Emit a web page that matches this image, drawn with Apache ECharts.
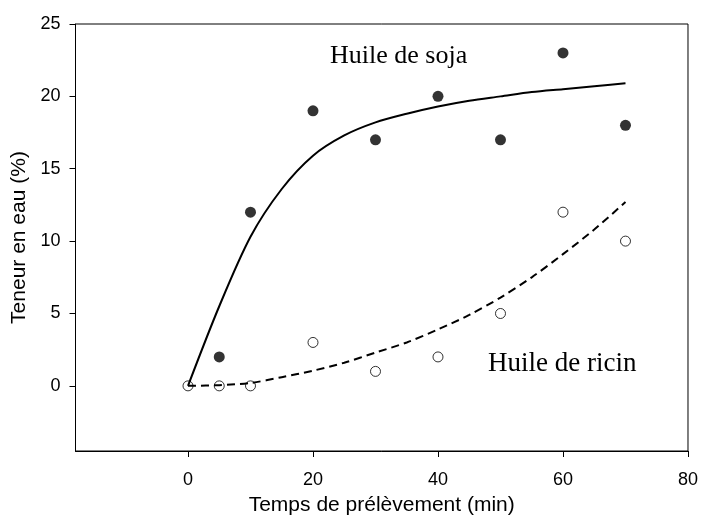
<!DOCTYPE html>
<html>
<head>
<meta charset="utf-8">
<script src="https://cdn.jsdelivr.net/npm/echarts@6/dist/echarts.min.js"></script>
<style>html,body{margin:0;padding:0;background:#fff}#c{width:701px;height:521px}</style>
</head>
<body>
<div id="c"></div>
<script>
// Observed points
const times = [0, 5, 10, 20, 30, 40, 50, 60, 70];
const sojaValues = [null, 2, 12, 19, 17, 20, 17, 23, 18];
const ricinValues = [0, 0, 0, 3, 1, 2, 5, 12, 10];
// Fitted curves
const fitX = [0, 5, 10, 15, 20, 25, 30, 35, 40, 45, 50, 55, 60, 65, 70];
const sojaFitY = [0, 5.5, 10.3, 13.6, 15.9, 17.3, 18.2, 18.8, 19.3, 19.7, 20.0, 20.3, 20.5, 20.7, 20.9];
const ricinFitY = [0, 0.05, 0.2, 0.6, 1.05, 1.6, 2.3, 3.0, 3.9, 4.9, 6.1, 7.5, 9.1, 10.8, 12.7];
const xTicks = [0, 20, 40, 60, 80];
const yTicks = [0, 5, 10, 15, 20, 25];
const labelSoja = 'Huile de soja';
const labelRicin = 'Huile de ricin';

const pair = (xs, ys) => xs.map((x, i) => [x, ys[i]]).filter(p => p[1] !== null);

const chart = echarts.init(document.getElementById('c'));
const axisFont = 'Liberation Sans, Arial, sans-serif';
const serif = '"Liberation Serif", "Times New Roman", serif';
chart.setOption({
  animation: false,
  backgroundColor: '#fff',
  grid: { left: 75.5, right: 10, top: 24, bottom: 64.7, show: true, borderColor: '#000', borderWidth: 1, containLabel: false },
  xAxis: {
    type: 'value', min: -18, max: 80,
    name: 'Temps de prélèvement (min)', nameLocation: 'middle', nameGap: 44,
    nameTextStyle: { fontFamily: axisFont, fontSize: 21, color: '#000' },
    axisLine: { show: true, onZero: false, lineStyle: { color: '#000', width: 1 } },
    axisTick: { show: true, inside: false, length: 6, lineStyle: { color: '#000' }, customValues: xTicks },
    axisLabel: { fontFamily: axisFont, fontSize: 18, color: '#000', margin: 20, customValues: xTicks },
    splitLine: { show: false }
  },
  yAxis: {
    type: 'value', min: -4.5, max: 25,
    name: 'Teneur en eau (%)', nameLocation: 'middle', nameGap: 43, nameRotate: 90,
    nameTextStyle: { fontFamily: axisFont, fontSize: 21, color: '#000' },
    axisLine: { show: true, onZero: false, lineStyle: { color: '#000', width: 1 } },
    axisTick: { show: true, inside: false, length: 6, lineStyle: { color: '#000' }, customValues: yTicks },
    axisLabel: { fontFamily: axisFont, fontSize: 18, color: '#000', margin: 15, customValues: yTicks },
    splitLine: { show: false }
  },
  series: [
    { type: 'line', data: pair(fitX, sojaFitY), smooth: 0.3, showSymbol: false, symbol: 'none',
      lineStyle: { color: '#000', width: 2 }, z: 2 },
    { type: 'line', data: pair(fitX, ricinFitY), smooth: 0.3, showSymbol: false, symbol: 'none',
      lineStyle: { color: '#000', width: 2, type: [8, 5] }, z: 2 },
    { type: 'scatter', data: pair(times, sojaValues), symbol: 'circle', symbolSize: 11,
      itemStyle: { color: '#000' }, z: 3 },
    { type: 'scatter', data: pair(times, ricinValues), symbol: 'circle', symbolSize: 10,
      itemStyle: { color: 'rgba(0,0,0,0)', borderColor: '#000', borderWidth: 1 }, z: 4 }
  ],
  graphic: [
    { type: 'text', left: 330, top: 43, style: { text: labelSoja, font: '26px ' + serif, fill: '#000' } },
    { type: 'text', left: 488, top: 350, style: { text: labelRicin, font: '27px ' + serif, fill: '#000' } }
  ]
});
</script>
</body>
</html>
